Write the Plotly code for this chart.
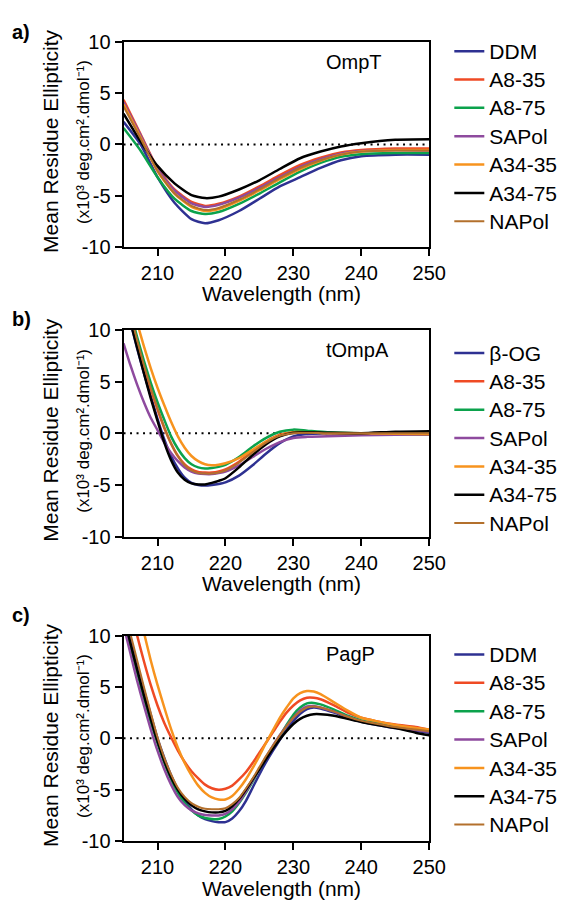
import plotly.graph_objects as go

W, H = 575, 911

# ---------------- data ----------------
SERIES_A = ["DDM", "A8-35", "A8-75", "SAPol", "A34-35", "A34-75", "NAPol"]
SERIES_B = ["β-OG", "A8-35", "A8-75", "SAPol", "A34-35", "A34-75", "NAPol"]
SERIES_C = ["DDM", "A8-35", "A8-75", "SAPol", "A34-35", "A34-75", "NAPol"]

# Panel a: OmpT
WL_A = [205, 207.5, 210, 212.5, 215, 217, 219, 222, 225, 228, 231, 234, 237, 240, 245, 250]
A_DDM = [2.2, 0.0, -3.2, -5.7, -7.3, -7.7, -7.4, -6.5, -5.3, -4.1, -3.2, -2.3, -1.55, -1.15, -1.0, -1.0]
A_A835 = [4.35, 1.0, -2.3, -4.4, -5.6, -6.0, -5.8, -5.1, -4.1, -3.0, -2.0, -1.3, -0.8, -0.55, -0.4, -0.4]
A_A875 = [1.6, -0.6, -3.2, -5.3, -6.5, -6.8, -6.6, -5.8, -4.8, -3.7, -2.65, -1.8, -1.2, -0.95, -0.85, -0.85]
A_SAPOL = [4.1, 0.9, -2.4, -4.5, -5.75, -6.1, -5.9, -5.2, -4.25, -3.2, -2.2, -1.45, -0.9, -0.65, -0.55, -0.6]
A_A3435 = [3.9, 0.7, -2.6, -4.8, -6.1, -6.5, -6.3, -5.5, -4.5, -3.4, -2.4, -1.6, -1.0, -0.7, -0.55, -0.55]
A_A3475 = [3.0, 0.3, -2.1, -3.8, -4.95, -5.24, -5.1, -4.4, -3.5, -2.4, -1.35, -0.7, -0.2, 0.12, 0.45, 0.5]
A_NAPOL = [3.7, 0.6, -2.6, -4.8, -6.0, -6.4, -6.2, -5.4, -4.4, -3.3, -2.3, -1.55, -1.0, -0.7, -0.6, -0.6]

# Panel b: tOmpA
WL_B = [205, 206, 207, 208, 209, 210, 211, 212, 213, 214, 215, 216, 217, 218, 219, 220,
        222, 224, 226, 228, 230, 232, 235, 240, 245, 250]
B_BOG = [13.5, 10.8, 8.2, 5.8, 3.6, 1.4, -0.6, -2.2, -3.4, -4.3, -4.8, -5.0, -5.05, -5.0, -4.9, -4.75,
         -4.1, -3.1, -1.95, -0.95, -0.3, -0.08, -0.03, 0.0, -0.1, -0.15]
B_A835 = [14.0, 11.4, 8.9, 6.5, 4.3, 2.3, 0.5, -1.0, -2.2, -3.0, -3.5, -3.75, -3.8, -3.8, -3.7, -3.5,
          -2.75, -1.75, -0.8, -0.15, 0.1, 0.1, 0.05, 0.0, 0.0, -0.05]
B_A875 = [14.0, 11.7, 9.3, 7.0, 4.9, 3.0, 1.3, -0.3, -1.5, -2.4, -3.0, -3.3, -3.4, -3.35, -3.25, -3.05,
          -2.3, -1.3, -0.45, 0.15, 0.35, 0.25, 0.1, 0.0, 0.0, -0.05]
B_SAPOL = [8.7, 6.6, 4.7, 3.0, 1.5, 0.3, -0.9, -1.9, -2.7, -3.3, -3.7, -3.9, -3.95, -3.95, -3.85, -3.7,
           -3.1, -2.3, -1.5, -0.85, -0.45, -0.35, -0.3, -0.2, -0.15, -0.1]
B_A3435 = [15.5, 13.2, 10.7, 8.4, 6.3, 4.4, 2.7, 1.1, -0.3, -1.4, -2.2, -2.7, -3.0, -3.1, -3.05, -2.9,
           -2.4, -1.6, -0.8, -0.2, 0.1, 0.1, 0.0, 0.0, -0.05, -0.1]
B_A3475 = [13.2, 10.8, 8.3, 5.8, 3.4, 1.2, -0.9, -2.6, -3.8, -4.5, -4.85, -4.95, -4.95, -4.8, -4.6, -4.35,
           -3.3, -2.1, -1.05, -0.3, 0.05, 0.1, 0.05, 0.0, 0.15, 0.2]
B_NAPOL = [14.2, 11.6, 9.0, 6.6, 4.4, 2.4, 0.6, -1.0, -2.2, -3.1, -3.6, -3.85, -3.9, -3.9, -3.8, -3.6,
           -2.85, -1.85, -0.9, -0.25, 0.0, 0.05, 0.0, 0.0, 0.0, 0.0]

# Panel c: PagP
WL_C = [205, 206, 207, 208, 209, 210, 211, 212, 213, 214, 215, 216, 217, 218, 219, 220,
        221, 222, 223, 224, 225, 226, 227, 228, 229, 230, 231, 232, 233, 234,
        236, 238, 240, 242, 245, 248, 250]
C_DDM = [12.5, 9.8, 7.2, 4.7, 2.3, 0.0, -1.9, -3.6, -5.0, -6.1, -6.9, -7.5, -7.85, -8.05, -8.15, -8.15,
         -7.8, -7.1, -6.1, -4.8, -3.5, -2.3, -1.2, -0.15, 0.85, 1.7, 2.4, 2.85, 3.0, 2.9,
         2.5, 2.0, 1.6, 1.35, 1.0, 0.75, 0.55]
C_A835 = [15.5, 12.7, 10.0, 7.5, 5.2, 3.2, 1.5, 0.1, -1.2, -2.3, -3.2, -3.9, -4.5, -4.85, -5.0, -4.9,
          -4.6, -4.0, -3.3, -2.4, -1.4, -0.4, 0.6, 1.6, 2.5, 3.2, 3.7, 3.95, 3.95, 3.8,
          3.2, 2.5, 2.0, 1.7, 1.35, 1.1, 0.85]
C_A875 = [12.0, 9.0, 6.4, 3.9, 1.6, -0.5, -2.4, -4.0, -5.3, -6.3, -7.0, -7.5, -7.75, -7.85, -7.85, -7.6,
          -7.1, -6.3, -5.3, -4.2, -3.0, -1.9, -0.8, 0.2, 1.3, 2.3, 3.0, 3.4, 3.45, 3.3,
          2.8, 2.2, 1.75, 1.5, 1.1, 0.9, 0.7]
C_SAPOL = [11.0, 8.3, 5.6, 3.2, 0.9, -1.2, -3.0, -4.5, -5.7, -6.5, -7.0, -7.3, -7.45, -7.5, -7.5, -7.35,
           -6.9, -6.2, -5.2, -4.1, -3.0, -1.8, -0.7, 0.3, 1.2, 2.0, 2.7, 3.1, 3.15, 3.0,
           2.6, 2.1, 1.65, 1.4, 1.05, 0.8, 0.65]
C_A3435 = [19.0, 16.3, 13.0, 10.3, 7.6, 5.2, 3.0, 0.9, -0.9, -2.4, -3.6, -4.6, -5.3, -5.75, -5.95, -5.95,
           -5.6, -4.9, -4.0, -2.9, -1.7, -0.4, 0.8, 2.0, 3.0, 3.9, 4.4, 4.6, 4.55, 4.3,
           3.5, 2.7, 2.0, 1.7, 1.3, 1.0, 0.85]
C_A3475 = [12.0, 9.3, 6.7, 4.2, 1.9, -0.3, -2.2, -3.8, -5.0, -5.9, -6.5, -6.9, -7.1, -7.2, -7.2, -7.05,
           -6.6, -5.9, -5.0, -4.0, -3.0, -2.0, -1.0, -0.1, 0.7, 1.4, 1.9, 2.2, 2.35, 2.35,
           2.2, 1.9, 1.6, 1.35, 1.0, 0.55, 0.3]
C_NAPOL = [12.8, 10.2, 7.6, 5.0, 2.5, 0.1, -1.9, -3.5, -4.8, -5.7, -6.3, -6.65, -6.85, -6.9, -6.9, -6.8,
           -6.4, -5.8, -4.9, -3.9, -2.8, -1.7, -0.7, 0.3, 1.2, 2.0, 2.6, 3.0, 3.1, 3.0,
           2.6, 2.1, 1.7, 1.45, 1.1, 0.85, 0.7]

PANEL_NAMES = ["OmpT", "tOmpA", "PagP"]
PANEL_LABELS = ["a)", "b)", "c)"]
X_TICKS = [210, 220, 230, 240, 250]
Y_TICKS = [-10, -5, 0, 5, 10]
Y_TICKTEXT = ["-10", "-5", "0", "5", "10"]
Y_TITLE = "Mean Residue Ellipticity"
Y_UNITS = "(x10³ deg.cm².dmol⁻¹)"
X_TITLE = "Wavelength (nm)"

COLORS = ["#2E3192", "#EF4A24", "#0BA24C", "#8E4A9E", "#F7931E", "#000000", "#B3702C"]
WIDTHS = [2.5, 2.5, 2.5, 2.5, 2.5, 2.5, 2.0]

# ---------------- layout geometry (pixels) ----------------
PLOT_L, PLOT_R = 127.3, 442.3
PANELS_TB = [(31.7, 241.7), (326.7, 538.7), (640.0, 850.7)]
LEGEND_TOP = [21.5, 330.8, 639.8]
NAME_Y = [52, 347.5, 659]
LABEL_Y = [21.5, 316, 619]
XTITLE_Y = [290, 587, 899]
FONT = "Liberation Sans, Arial, Helvetica, sans-serif"


def px(x):
    return x / W


def py(y):
    return 1 - y / H


fig = go.Figure()

panels = [
    (WL_A, SERIES_A, [A_DDM, A_A835, A_A875, A_SAPOL, A_A3435, A_A3475, A_NAPOL]),
    (WL_B, SERIES_B, [B_BOG, B_A835, B_A875, B_SAPOL, B_A3435, B_A3475, B_NAPOL]),
    (WL_C, SERIES_C, [C_DDM, C_A835, C_A875, C_SAPOL, C_A3435, C_A3475, C_NAPOL]),
]

annotations = []
shapes = []
for i, (wl, names, ys) in enumerate(panels):
    sfx = "" if i == 0 else str(i + 1)
    leg = "legend" if i == 0 else f"legend{i + 1}"
    for name, y, c, w in zip(names, ys, COLORS, WIDTHS):
        fig.add_trace(go.Scatter(
            x=wl, y=y, name='<span style="font-size:21px">' + name + "</span>", mode="lines",
            line=dict(color=c, width=w, shape="spline", smoothing=0.6),
            xaxis="x" + sfx, yaxis="y" + sfx, legend=leg,
        ))
    top, bot = PANELS_TB[i]
    axis_common = dict(showline=True, linecolor="black", linewidth=2, mirror=True,
                       ticks="outside", ticklen=7, tickwidth=2, tickcolor="black",
                       showgrid=False, zeroline=False,
                       tickfont=dict(family=FONT, size=20, color="black"))
    fig.layout["xaxis" + sfx] = dict(
        domain=[px(PLOT_L), px(PLOT_R)], range=[205, 250], tickvals=X_TICKS,
        anchor="y" + sfx, **axis_common)
    fig.layout["yaxis" + sfx] = dict(
        domain=[py(bot), py(top)], range=[-10, 10], tickvals=Y_TICKS, ticktext=Y_TICKTEXT,
        anchor="x" + sfx, ticklabelstandoff=0, **axis_common)
    fig.layout[leg] = dict(
        x=px(463), xanchor="left", y=py(LEGEND_TOP[i]), yanchor="top",
        bgcolor="rgba(0,0,0,0)", borderwidth=0,
        font=dict(family=FONT, size=19.5, color="black"),
        tracegroupgap=0, itemwidth=30)
    # zero reference line
    shapes.append(dict(type="line", xref="x" + sfx, yref="y" + sfx,
                       x0=205, x1=250, y0=0, y1=0, layer="below",
                       line=dict(color="black", width=2, dash="2px,4.5px")))
    cy = (top + bot) / 2 - 3
    annotations += [
        dict(text=Y_TITLE, x=px(52), y=py(cy), textangle=-90,
             font=dict(family=FONT, size=21, color="black")),
        dict(text=Y_UNITS, x=px(86), y=py(cy),
             textangle=-90, font=dict(family=FONT, size=17, color="black")),
        dict(text=X_TITLE, x=px(290), y=py(XTITLE_Y[i]),
             font=dict(family=FONT, size=21, color="black")),
        dict(text=PANEL_NAMES[i], x=px(335), y=py(NAME_Y[i]), xanchor="left",
             font=dict(family=FONT, size=20, color="black")),
        dict(text="<b>" + PANEL_LABELS[i] + "</b>", x=px(11), y=py(LABEL_Y[i]),
             xanchor="left", font=dict(family=FONT, size=20, color="black")),
    ]

for a in annotations:
    a.update(xref="paper", yref="paper", showarrow=False, borderpad=0)
    a.setdefault("xanchor", "center")
    a.setdefault("yanchor", "middle")

fig.update_layout(
    width=W, height=H, margin=dict(l=0, r=0, t=0, b=0),
    paper_bgcolor="white", plot_bgcolor="white",
    annotations=annotations, shapes=shapes,
    font=dict(family=FONT, color="black"),
)

fig.write_html(
    "out.html",
    config={"displayModeBar": False},
    post_script="document.body.style.margin='0';document.body.style.overflow='hidden';",
)
